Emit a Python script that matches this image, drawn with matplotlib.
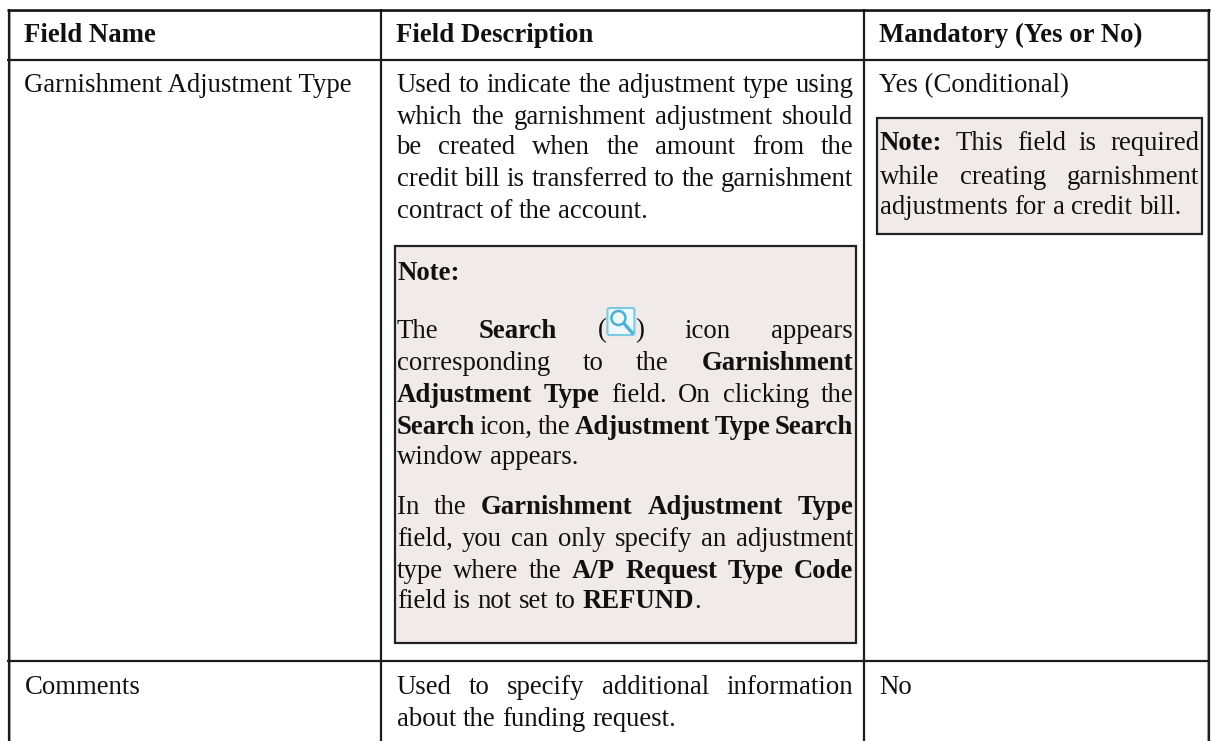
import matplotlib
matplotlib.use("Agg")
import matplotlib.pyplot as plt
from matplotlib.patches import Rectangle, FancyBboxPatch, Circle

plt.rcParams['font.family'] = ['Liberation Serif', 'DejaVu Sans']

# *...* marks bold, [icon] is the search icon, last lines are not justified
headers = ["Field Name", "Field Description", "Mandatory (Yes or No)"]
field_names = ["Garnishment Adjustment Type", "Comments"]
mandatory = ["Yes (Conditional)", "No"]

desc_lines = ["Used to indicate the adjustment type using",
              "which the garnishment adjustment should",
              "be created when the amount from the",
              "credit bill is transferred to the garnishment",
              "contract of the account."]
note_title = "Note:"
note_para1 = ["The *Search* ([icon]) icon appears",
              "corresponding to the *Garnishment*",
              "*Adjustment Type* field. On clicking the",
              "*Search* icon, the *Adjustment Type Search*",
              "window appears."]
note_para2 = ["In the *Garnishment Adjustment Type*",
              "field, you can only specify an adjustment",
              "type where the *A/P Request Type Code*",
              "field is not set to *REFUND*."]
side_note = ["*Note:* This field is required",
             "while creating garnishment",
             "adjustments for a credit bill."]
comment_lines = ["Used to specify additional information",
                 "about the funding request."]

W, H = 1211, 741
FS = 19.3
DY = 1.5  # all baselines sit a little lower than first read
TEXT = "#111111"
LINE = "#1c1c1c"
INNER = "#b0b0b0"
NOTE_BG = "#f0ebe9"
ICON_W = 29

fig = plt.figure(figsize=(W / 100, H / 100), dpi=100)
ax = fig.add_axes([0, 0, 1, 1])
ax.set_xlim(0, W)
ax.set_ylim(H, 0)
ax.axis("off")
renderer = fig.canvas.get_renderer()


def text_w(s, bold):
    t = ax.text(0, 0, s, fontsize=FS, fontweight="bold" if bold else "normal")
    w = t.get_window_extent(renderer).width
    t.remove()
    return w


def parse(line):
    # split a marked line into [word, bold, glued to previous word] tokens
    tokens = []
    for i, part in enumerate(line.split("*")):
        for j, word in enumerate(part.split()):
            glued = j == 0 and tokens and not part[0].isspace() and i % 2 == 0
            tokens.append((word, i % 2 == 1, bool(glued)))
    return tokens


def token_w(word, bold):
    if "[icon]" in word:
        return sum(text_w(p, bold) for p in word.split("[icon]") if p) + ICON_W
    return text_w(word, bold)


def draw_icon(x, baseline):
    top = baseline - 29 - DY
    ax.add_patch(FancyBboxPatch((x + 1, top + 1), ICON_W - 2, 27,
                                boxstyle="round,pad=0,rounding_size=2",
                                fc="#eef7fa", ec="#7cc8e0", lw=1.5, zorder=3))
    ax.add_patch(Circle((x + 12, top + 11), 7, fc="#eef7fa", ec="#4ab0d4", lw=1.8, zorder=4))
    ax.plot([x + 18, x + 25.5], [top + 17, top + 25.5], color="#4ab0d4", lw=2.4, zorder=4)


def put(x, y, s, bold=False):
    ax.text(x, y + DY, s, fontsize=FS, fontweight="bold" if bold else "normal",
            color=TEXT, va="baseline")


def draw_token(x, y, word, bold):
    if "[icon]" in word:
        before, after = word.split("[icon]")
        put(x, y, before, bold)
        x += text_w(before, bold)
        draw_icon(x, y + DY)
        put(x + ICON_W, y, after, bold)
    else:
        put(x, y, word, bold)


def draw_line(line, x0, x1, y, justify=True):
    tokens = parse(line)
    widths = [token_w(w, b) for w, b, _ in tokens]
    gaps = sum(1 for t in tokens[1:] if not t[2])
    space = text_w("a b", False) - text_w("ab", False)
    if justify and gaps:
        space = (x1 - x0 - sum(widths)) / gaps
    x = x0
    for (word, bold, glued), w in zip(tokens, widths):
        if glued:
            x -= space
        draw_token(x, y, word, bold)
        x += w + space


def draw_par(lines, x0, x1, baselines):
    for i, (line, y) in enumerate(zip(lines, baselines)):
        draw_line(line, x0, x1, y, justify=i < len(lines) - 1)


# table rules, the outer frame has a grey edge on its inner side
ax.plot([10, 10], [11, H], color=INNER, lw=0.8, solid_capstyle="butt")
ax.plot([1206.5, 1206.5], [11, H], color=INNER, lw=0.8, solid_capstyle="butt")
ax.plot([10, 1207], [11.2, 11.2], color=INNER, lw=0.8, solid_capstyle="butt")
for x in [8.5, 381, 864, 1208.5]:
    ax.plot([x, x], [9, H], color=LINE, lw=1.6, solid_capstyle="butt")
ax.plot([7, 1210], [9.5, 9.5], color="#111111", lw=1.8, solid_capstyle="butt")
for y in [60, 661]:
    ax.plot([7, 1210], [y, y], color=LINE, lw=1.6, solid_capstyle="butt")

# note boxes
ax.add_patch(Rectangle((394.5, 246), 461, 397, fc=NOTE_BG, ec="#222222", lw=1.6))
ax.add_patch(Rectangle((877, 118), 325, 115.5, fc=NOTE_BG, ec="#222222", lw=1.6))

# header row
for h, x in zip(headers, [24.5, 396.5, 879]):
    put(x, 40, h, True)

# first column and last column
for name, man, y in zip(field_names, mandatory, [91, 693]):
    put(24.5, y, name)
    put(879, y, man)

# description column
draw_par(desc_lines, 396.5, 853.5, [90, 122, 153, 185, 217])
put(397, 278, note_title, True)
draw_par(note_para1, 397, 853, [336, 368, 400, 432, 463])
draw_par(note_para2, 397, 853, [512, 544, 576, 607])
draw_par(comment_lines, 396.5, 853.5, [693, 725])

# note in the mandatory column
draw_par(side_note, 880, 1199, [149, 182, 213])

fig.savefig("out.png", dpi=100, facecolor="white")
